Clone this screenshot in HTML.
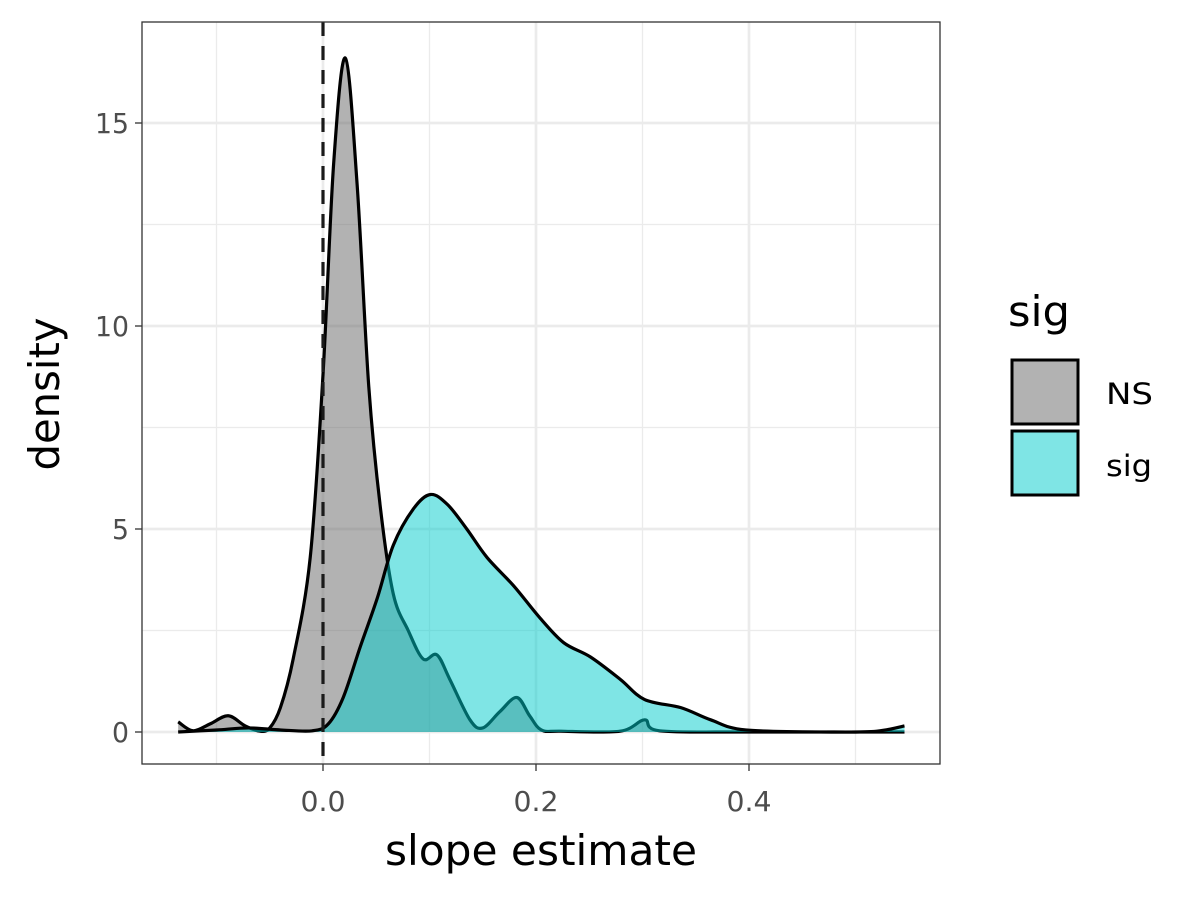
<!DOCTYPE html>
<html><head><meta charset="utf-8"><style>
body{margin:0;background:#fff;font-family:"Liberation Sans","DejaVu Sans",sans-serif;}
</style></head><body>
<svg id="chart" width="1200" height="900" xmlns="http://www.w3.org/2000/svg" font-family="'DejaVu Sans','Liberation Sans',sans-serif"></svg>
<script>
const nsX=[-0.136,-0.122,-0.106,-0.089,-0.073,-0.059,-0.050,-0.040,-0.028,-0.012,0.0,0.010,0.021,0.032,0.043,0.054,0.066,0.080,0.094,0.107,0.119,0.138,0.150,0.166,0.182,0.194,0.205,0.223,0.279,0.302,0.316,0.40,0.546];
const nsY=[0.25,0.03,0.2,0.4,0.15,0.02,0.1,0.6,1.8,4.3,8.8,14.0,16.6,13.5,8.5,5.5,3.4,2.5,1.8,1.9,1.3,0.3,0.1,0.5,0.85,0.4,0.05,0.02,0.02,0.3,0.03,0.0,0.0];
const sigX=[-0.136,-0.10,-0.07,-0.04,-0.01,0.005,0.019,0.035,0.051,0.066,0.085,0.101,0.117,0.135,0.154,0.179,0.204,0.226,0.251,0.279,0.302,0.336,0.364,0.397,0.48,0.52,0.546];
const sigY=[0.0,0.05,0.1,0.05,0.03,0.2,0.85,2.1,3.3,4.6,5.5,5.85,5.6,5.0,4.3,3.6,2.8,2.2,1.85,1.3,0.8,0.6,0.3,0.05,0.0,0.02,0.15];
const xTicks=[0.0,0.2,0.4];
const xTickLabels=["0.0","0.2","0.4"];
const yTicks=[0,5,10,15];
const yTickLabels=["0","5","10","15"];
const L=142,R=940,T=22,B=764;
const sx=v=>323+v*1065;
const sy=v=>732-v*40.6;
const svg=document.getElementById('chart');
const NS='http://www.w3.org/2000/svg';
function mk(tag,attrs,parent){const e=document.createElementNS(NS,tag);for(const k in attrs)e.setAttribute(k,attrs[k]);(parent||svg).appendChild(e);return e;}
const bg=mk('rect',{x:L,y:T,width:R-L,height:B-T,fill:'#fff'});


[-0.1,0.1,0.3,0.5].forEach(v=>{const l=mk('line',{x1:sx(v),x2:sx(v),y1:T,y2:B,stroke:'#ebebeb','stroke-width':1.3});

});
[2.5,7.5,12.5].forEach(v=>{const l=mk('line',{x1:L,x2:R,y1:sy(v),y2:sy(v),stroke:'#ebebeb','stroke-width':1.3});

});
xTicks.forEach(v=>{const l=mk('line',{x1:sx(v),x2:sx(v),y1:T,y2:B,stroke:'#ebebeb','stroke-width':2.7});

});
yTicks.forEach(v=>{const l=mk('line',{x1:L,x2:R,y1:sy(v),y2:sy(v),stroke:'#ebebeb','stroke-width':2.7});

});
function pathFor(xs,ys){const p=xs.map((x,i)=>[sx(x),sy(ys[i])]);let d='M'+p[0][0]+','+p[0][1];
for(let i=0;i<p.length-1;i++){const p0=p[i-1]||p[i],p1=p[i],p2=p[i+1],p3=p[i+2]||p2;
const c1=[p1[0]+(p2[0]-p0[0])/6,p1[1]+(p2[1]-p0[1])/6],c2=[p2[0]-(p3[0]-p1[0])/6,p2[1]-(p3[1]-p1[1])/6];
d+=' C'+c1[0]+','+c1[1]+' '+c2[0]+','+c2[1]+' '+p2[0]+','+p2[1];}return d;}
function series(xs,ys,fill,name){const d=pathFor(xs,ys);
const a=mk('path',{d:d+' L'+sx(xs[xs.length-1])+','+sy(0)+' L'+sx(xs[0])+','+sy(0)+' Z',fill:fill,'fill-opacity':0.5,stroke:'none'});


const l=mk('path',{d:d,fill:'none',stroke:'#000','stroke-width':3.2,'stroke-linejoin':'round'});

}
series(nsX,nsY,'#666666','ns');
series(sigX,sigY,'#00cccc','sig');
const vl=mk('line',{x1:sx(0),x2:sx(0),y1:T,y2:B,stroke:'#1a1a1a','stroke-width':3.2,'stroke-dasharray':'14,10'});


const fr=mk('rect',{x:L,y:T,width:R-L,height:B-T,fill:'none',stroke:'#333','stroke-width':1.3});


xTicks.forEach((v,i)=>{const t=mk('line',{x1:sx(v),x2:sx(v),y1:B,y2:B+7,stroke:'#333','stroke-width':1.3});


const tx=mk('text',{x:sx(v),y:811,'text-anchor':'middle','font-size':28,fill:'#4d4d4d',textLength:45,lengthAdjust:'spacingAndGlyphs'});tx.textContent=xTickLabels[i];

});
yTicks.forEach((v,i)=>{const t=mk('line',{x1:L-7,x2:L,y1:sy(v),y2:sy(v),stroke:'#333','stroke-width':1.3});


const tx=mk('text',{x:L-13,y:sy(v)+10,'text-anchor':'end','font-size':28,fill:'#4d4d4d',textLength:yTickLabels[i].length*17,lengthAdjust:'spacingAndGlyphs'});tx.textContent=yTickLabels[i];

});
const xt=mk('text',{x:541,y:865,'text-anchor':'middle','font-size':42,fill:'#000',textLength:312,lengthAdjust:'spacingAndGlyphs'});xt.textContent='slope estimate';


const yt=mk('text',{x:0,y:0,'text-anchor':'middle','font-size':42,fill:'#000',textLength:153,lengthAdjust:'spacingAndGlyphs',transform:'translate(59,394) rotate(-90)'});yt.textContent='density';


const lt=mk('text',{x:1008,y:326,'font-size':42,fill:'#000',textLength:62,lengthAdjust:'spacingAndGlyphs'});lt.textContent='sig';


[['NS','#666666',360,404,47],['sig','#00cccc',431,476,46]].forEach(([lab,c,y,ty,w])=>{
const r=mk('rect',{x:1012,y:y,width:66,height:64,fill:c,'fill-opacity':0.5,stroke:'#000','stroke-width':3});


const t=mk('text',{x:1106,y:ty,'font-size':29,fill:'#000',textLength:w,lengthAdjust:'spacingAndGlyphs'});t.textContent=lab;

});
</script>
</body></html>
